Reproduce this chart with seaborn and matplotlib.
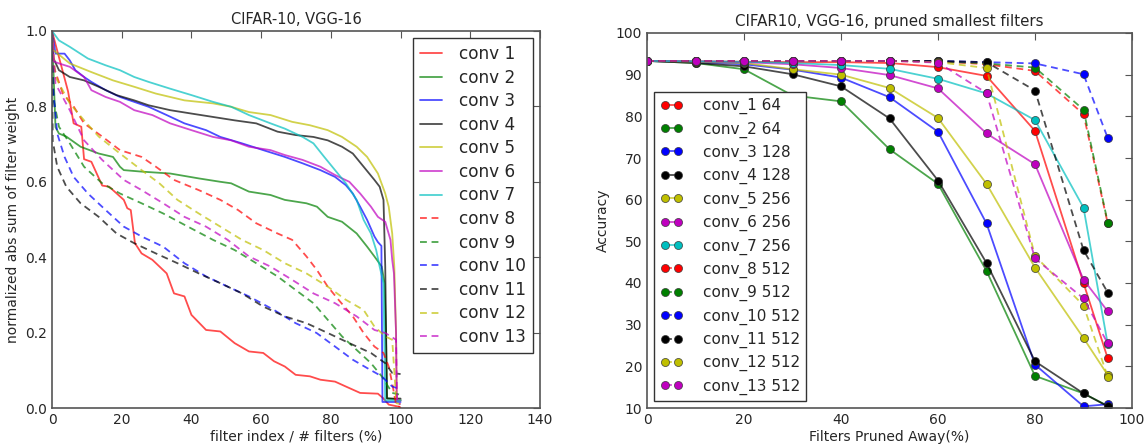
import matplotlib
matplotlib.use("Agg")
import matplotlib.pyplot as plt
import seaborn as sns
import pandas as pd

# ---------------- Left panel data: normalized abs sum of filter weight ----------------
c1_x = [0, 4.6, 6.2, 8.4, 9.2, 11.3, 14.4, 16.4, 20.6, 21.6, 22.6, 23.8, 25.7, 28.8, 32.9, 35, 38, 40,
        44.2, 48.3, 52.4, 56.5, 60.6, 63.7, 66.8, 69.9, 74, 77, 81.2, 84.3, 88.4, 93.5, 95, 96.6, 99.7, 100]
c1_y = [1.0, 0.84, 0.755, 0.746, 0.66, 0.653, 0.59, 0.587, 0.552, 0.53, 0.525, 0.437, 0.41, 0.393, 0.357,
        0.304, 0.296, 0.247, 0.207, 0.203, 0.172, 0.15, 0.146, 0.124, 0.11, 0.088, 0.084, 0.075, 0.07,
        0.057, 0.04, 0.038, 0.026, 0.009, 0.003, 0.0]
c2_x = [0, 1, 2, 4.1, 8.2, 13.4, 17.5, 19.5, 20.6, 25.7, 33.9, 42.1, 48.3, 51.4, 56.5, 62.7, 66.8, 73, 76,
        79.1, 83.2, 87.4, 90.4, 92.5, 94.6, 95.4, 95.8, 96.1, 99.7, 100]
c2_y = [1.0, 0.745, 0.728, 0.72, 0.693, 0.675, 0.666, 0.64, 0.631, 0.627, 0.622, 0.609, 0.6, 0.596, 0.574,
        0.565, 0.552, 0.543, 0.534, 0.507, 0.494, 0.463, 0.428, 0.402, 0.375, 0.331, 0.2, 0.026, 0.022, 0.022]
c3_x = [0, 1, 3.6, 5.1, 6.7, 9.2, 11.3, 15.4, 19.5, 23.6, 27.7, 32.9, 38, 44.2, 48.3, 54.5, 60.6, 66.8,
        71.9, 77, 81.2, 84.3, 86.3, 88.4, 90.4, 92.5, 93.5, 94.5, 94.8, 97, 100]
c3_y = [1.0, 0.94, 0.94, 0.922, 0.896, 0.878, 0.865, 0.843, 0.825, 0.812, 0.799, 0.777, 0.755, 0.737,
        0.719, 0.702, 0.684, 0.666, 0.649, 0.631, 0.613, 0.591, 0.569, 0.534, 0.499, 0.455, 0.44, 0.43,
        0.016, 0.016, 0.016]
c4_x = [0, 0.3, 2, 5.1, 9.2, 13.4, 18.5, 23.6, 27.7, 33.9, 40, 46.2, 52.4, 58.6, 64.7, 69.9, 75, 79.1,
        83.2, 86.3, 89.4, 92.5, 94, 95.1, 95.6, 96.1, 100]
c4_y = [1.0, 0.93, 0.896, 0.878, 0.869, 0.852, 0.83, 0.816, 0.803, 0.79, 0.781, 0.772, 0.763, 0.755,
        0.733, 0.724, 0.719, 0.71, 0.693, 0.675, 0.64, 0.605, 0.587, 0.552, 0.375, 0.025, 0.025]
c5_x = [0, 0.3, 5.1, 11.3, 17.5, 23.6, 29.8, 38, 46.2, 51.4, 56.5, 62.7, 68.9, 74, 79.1, 83.2, 87.4,
        90.4, 93.5, 95.6, 96.6, 97.6, 98.2, 98.7, 98.9, 100]
c5_y = [1.0, 0.95, 0.914, 0.891, 0.869, 0.852, 0.834, 0.816, 0.808, 0.799, 0.785, 0.777, 0.759, 0.75,
        0.737, 0.719, 0.693, 0.666, 0.622, 0.569, 0.534, 0.463, 0.375, 0.2, 0.022, 0.02]
c6_x = [0, 0.3, 2, 5.1, 9.2, 11.3, 15.4, 19.5, 23.6, 28.8, 33.9, 40, 46.2, 51.4, 56.5, 62.7, 66.8, 71.9,
        77, 81.2, 85.3, 88.4, 91.5, 93.5, 95.6, 97.1, 97.6, 98.1, 98.7, 98.9, 100]
c6_y = [1.0, 0.92, 0.914, 0.905, 0.878, 0.843, 0.825, 0.812, 0.79, 0.777, 0.755, 0.737, 0.719, 0.71,
        0.693, 0.684, 0.671, 0.658, 0.64, 0.618, 0.6, 0.569, 0.534, 0.507, 0.494, 0.446, 0.393, 0.357,
        0.2, 0.022, 0.02]
c7_x = [0, 2, 5.1, 10.3, 15.4, 19.5, 23.6, 27.7, 33.9, 40, 46.2, 51.4, 56.5, 62.7, 66.8, 71.9, 75, 78.1,
        81.2, 84.3, 87.4, 89.4, 91.5, 93, 94, 95.1, 95.6, 100]
c7_y = [1.0, 0.975, 0.958, 0.927, 0.909, 0.896, 0.878, 0.865, 0.847, 0.83, 0.812, 0.799, 0.777, 0.755,
        0.741, 0.719, 0.702, 0.666, 0.631, 0.596, 0.552, 0.499, 0.463, 0.419, 0.375, 0.331, 0.02, 0.02]
c8_x = [0, 0.5, 3.1, 6.2, 9.2, 14.4, 19.5, 25.7, 29.8, 35, 42.1, 48.3, 53.4, 58.6, 64.7, 68.9, 73, 76,
        79.1, 82.2, 86.3, 89.4, 92.5, 95.1, 96.6, 97.6, 98.7, 100]
c8_y = [1.0, 0.905, 0.834, 0.8, 0.755, 0.72, 0.684, 0.666, 0.64, 0.605, 0.578, 0.552, 0.525, 0.49,
        0.463, 0.446, 0.402, 0.366, 0.322, 0.287, 0.243, 0.199, 0.163, 0.146, 0.11, 0.066, 0.009, 0.0]
c9_x = [0, 0.5, 2, 5.1, 9.2, 14.4, 19.5, 25.7, 31.9, 39, 46.2, 52.4, 58.6, 64.7, 69.9, 75, 79.1, 83.2,
        87.4, 91.5, 94.6, 97.6, 100]
c9_y = [1.0, 0.816, 0.746, 0.702, 0.64, 0.596, 0.569, 0.543, 0.516, 0.481, 0.446, 0.419, 0.384, 0.349,
        0.313, 0.278, 0.234, 0.19, 0.154, 0.119, 0.084, 0.04, 0.035]
c10_x = [0, 0.2, 1.5, 3.6, 6.2, 10.3, 15.4, 20.6, 25.7, 31.9, 38, 44.2, 50.4, 56.5, 63.7, 69.9, 75.9,
         81.2, 86.3, 90.4, 94.6, 97.6, 100]
c10_y = [1.0, 0.86, 0.728, 0.666, 0.613, 0.569, 0.525, 0.481, 0.455, 0.428, 0.384, 0.349, 0.322, 0.296,
         0.26, 0.225, 0.199, 0.163, 0.128, 0.106, 0.084, 0.057, 0.05]
c11_x = [0, 0.2, 1.5, 4.1, 8.2, 13.4, 18.5, 23.6, 29.8, 36, 42.1, 48.3, 54.5, 60.6, 66.8, 73, 79.1,
         85.3, 91.5, 95.6, 97.6, 100]
c11_y = [1.0, 0.71, 0.64, 0.587, 0.543, 0.507, 0.463, 0.437, 0.41, 0.384, 0.357, 0.331, 0.304, 0.269,
         0.243, 0.225, 0.199, 0.172, 0.146, 0.119, 0.093, 0.09]
c12_x = [0, 1, 5.1, 9.2, 13.4, 19.5, 25.7, 30.8, 36, 42.1, 48.3, 54.5, 60.6, 66.8, 73, 79.1, 84.3,
         89.4, 92.5, 95.6, 97.6, 98.8, 100]
c12_y = [1.0, 0.878, 0.808, 0.763, 0.72, 0.675, 0.631, 0.596, 0.552, 0.516, 0.481, 0.446, 0.419, 0.384,
         0.357, 0.322, 0.287, 0.26, 0.216, 0.19, 0.181, 0.013, 0.01]
c13_x = [0, 1, 5.1, 9.2, 14.4, 20.6, 25.7, 31.9, 38, 44.2, 50.4, 56.5, 62.7, 68.9, 75, 81.2, 87.4, 92.5,
         95.6, 98.7, 99.0, 100]
c13_y = [1.0, 0.86, 0.79, 0.71, 0.658, 0.605, 0.578, 0.543, 0.507, 0.481, 0.446, 0.402, 0.375, 0.34,
         0.304, 0.278, 0.243, 0.207, 0.199, 0.181, 0.013, 0.01]

left_labels = ["conv 1", "conv 2", "conv 3", "conv 4", "conv 5", "conv 6", "conv 7",
               "conv 8", "conv 9", "conv 10", "conv 11", "conv 12", "conv 13"]
left_xs = [c1_x, c2_x, c3_x, c4_x, c5_x, c6_x, c7_x, c8_x, c9_x, c10_x, c11_x, c12_x, c13_x]
left_ys = [c1_y, c2_y, c3_y, c4_y, c5_y, c6_y, c7_y, c8_y, c9_y, c10_y, c11_y, c12_y, c13_y]

# ---------------- Right panel data: accuracy vs pruned percentage ----------------
pruned = [0, 10, 20, 30, 40, 50, 60, 70, 80, 90, 95]
acc_conv1 = [93.3, 93.2, 93.1, 93.0, 93.0, 92.8, 91.8, 89.7, 76.5, 40.0, 21.9]
acc_conv2 = [93.3, 92.8, 91.3, 85.0, 83.6, 72.1, 63.8, 42.9, 17.7, 13.5, 10.5]
acc_conv3 = [93.3, 93.0, 92.5, 91.2, 89.3, 84.6, 76.3, 54.3, 20.4, 10.4, 10.9]
acc_conv4 = [93.3, 92.8, 92.0, 90.1, 87.2, 79.5, 64.6, 44.8, 21.2, 13.5, 10.4]
acc_conv5 = [93.3, 93.1, 92.8, 91.3, 90.0, 86.8, 79.6, 63.8, 43.7, 26.8, 17.9]
acc_conv6 = [93.3, 93.2, 93.0, 92.5, 91.6, 89.9, 86.7, 75.9, 68.5, 40.8, 33.2]
acc_conv7 = [93.3, 93.2, 93.1, 92.8, 92.3, 91.4, 89.0, 85.5, 79.1, 58.1, 25.3]
acc_conv8 = [93.3, 93.3, 93.3, 93.3, 93.3, 93.3, 93.2, 92.5, 90.9, 80.5, 54.3]
acc_conv9 = [93.3, 93.3, 93.3, 93.3, 93.3, 93.3, 93.2, 92.7, 91.7, 81.6, 54.5]
acc_conv10 = [93.3, 93.3, 93.3, 93.3, 93.3, 93.3, 93.3, 93.0, 92.7, 90.1, 74.8]
acc_conv11 = [93.3, 93.3, 93.3, 93.3, 93.3, 93.3, 93.3, 93.0, 86.2, 47.9, 37.7]
acc_conv12 = [93.3, 93.3, 93.3, 93.3, 93.3, 93.3, 93.0, 91.6, 46.5, 34.6, 17.5]
acc_conv13 = [93.3, 93.3, 93.3, 93.3, 93.3, 93.3, 92.9, 85.6, 45.9, 36.3, 25.5]

right_labels = ["conv_1 64", "conv_2 64", "conv_3 128", "conv_4 128", "conv_5 256", "conv_6 256",
                "conv_7 256", "conv_8 512", "conv_9 512", "conv_10 512", "conv_11 512",
                "conv_12 512", "conv_13 512"]
right_ys = [acc_conv1, acc_conv2, acc_conv3, acc_conv4, acc_conv5, acc_conv6, acc_conv7,
            acc_conv8, acc_conv9, acc_conv10, acc_conv11, acc_conv12, acc_conv13]

# ---------------- Styling ----------------
sns.set_style("white")
plt.rcParams['font.family'] = ['DejaVu Sans']
base_colors = [(1, 0, 0), (0, 0.5, 0), (0, 0, 1), (0, 0, 0), (0.75, 0.75, 0), (0.75, 0, 0.75), (0, 0.75, 0.75)]
colors = base_colors + base_colors[:6]
dashed = [False] * 7 + [True] * 6
text_color = "#262626"
dash_style = (0, (3.8, 2.6))

fig = plt.figure(figsize=(11.45, 4.46), dpi=100)
ax1 = fig.add_axes([52 / 1145, 38 / 446, 488 / 1145, 377 / 446])
ax2 = fig.add_axes([647 / 1145, 38 / 446, 485 / 1145, 375 / 446])

for lab, xs, ys, col, d in zip(left_labels, left_xs, left_ys, colors, dashed):
    df = pd.DataFrame({"x": xs, "y": ys})
    sns.lineplot(data=df, x="x", y="y", ax=ax1, estimator=None, sort=False,
                 color=col, alpha=0.7, linewidth=1.3,
                 linestyle=dash_style if d else "-", label=lab)

for lab, ys, col, d in zip(right_labels, right_ys, colors, dashed):
    df = pd.DataFrame({"x": pruned, "y": ys})
    sns.lineplot(data=df, x="x", y="y", ax=ax2, estimator=None, sort=False,
                 color=col + (0.7,), linewidth=1.3,
                 linestyle=dash_style if d else "-", label=lab,
                 marker="o", markersize=5.8, markerfacecolor=col,
                 markeredgecolor=(0.2, 0.2, 0.2, 0.8), markeredgewidth=0.6)

for ax in (ax1, ax2):
    for s in ax.spines.values():
        s.set_color("#555555")
        s.set_linewidth(1.2)
    ax.tick_params(direction="in", top=True, right=True, length=5, width=0.8,
                   colors="#555555", labelcolor=text_color, labelsize=10)

ax1.set_xlim(0, 140)
ax1.set_ylim(0, 1.0)
ax1.set_xticks([0, 20, 40, 60, 80, 100, 120, 140])
ax1.set_yticks([0.0, 0.2, 0.4, 0.6, 0.8, 1.0])
ax1.set_yticklabels(["0.0", "0.2", "0.4", "0.6", "0.8", "1.0"])
ax1.set_title("CIFAR-10, VGG-16", fontsize=10.5, color=text_color, pad=5)
ax1.set_xlabel("filter index / # filters (%)", fontsize=10, color=text_color, labelpad=2)
ax1.set_ylabel("normalized abs sum of filter weight", fontsize=10, color=text_color, labelpad=4)

ax2.set_xlim(0, 100)
ax2.set_ylim(10, 100)
ax2.set_xticks([0, 20, 40, 60, 80, 100])
ax2.set_yticks(list(range(10, 101, 10)))
ax2.set_title("CIFAR10, VGG-16, pruned smallest filters", fontsize=10.8, color=text_color, pad=5)
ax2.set_xlabel("Filters Pruned Away(%)", fontsize=10, color=text_color, labelpad=2)
ax2.set_ylabel("Accuracy", fontsize=10, color=text_color, labelpad=4)

leg1 = ax1.legend(loc="upper right", bbox_to_anchor=(0.986, 0.981), borderaxespad=0,
                  fontsize=12.2, handlelength=1.35, handletextpad=1.0, labelspacing=0.33,
                  fancybox=False, framealpha=1, edgecolor="#333333", borderpad=0.4)
leg1.get_frame().set_linewidth(1.0)
for t in leg1.get_texts():
    t.set_color(text_color)

leg2 = ax2.legend(loc="lower left", bbox_to_anchor=(0.0144, 0.0187), borderaxespad=0,
                  fontsize=11, handlelength=1.5, handletextpad=1.3, labelspacing=0.47,
                  fancybox=False, framealpha=1, edgecolor="#333333", borderpad=0.4, numpoints=2)
leg2.get_frame().set_linewidth(1.0)
for t in leg2.get_texts():
    t.set_color(text_color)

fig.savefig("out.png", dpi=100)
